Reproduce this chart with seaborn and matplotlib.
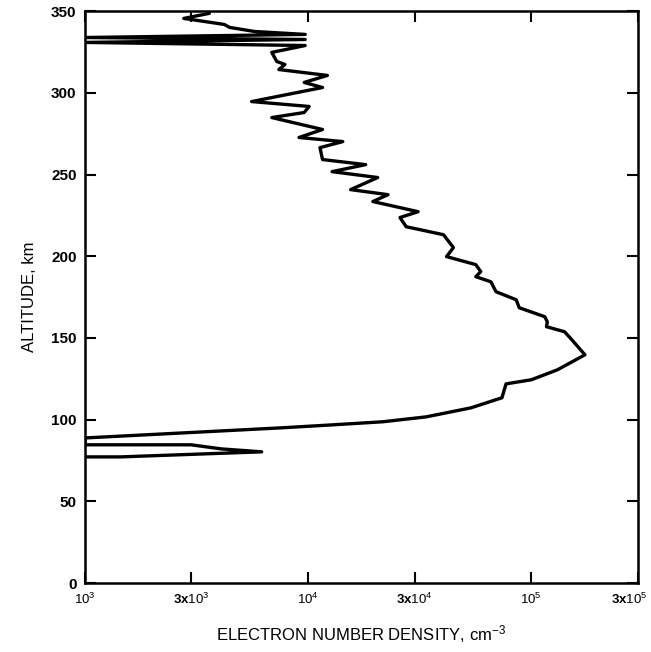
import numpy as np
import pandas as pd
import matplotlib
matplotlib.use("Agg")
import matplotlib.pyplot as plt
import matplotlib.transforms as mtransforms
import seaborn as sns
from matplotlib.ticker import FixedLocator, NullLocator

# electron density profile (path order, top to bottom)
density = [3.61e3, 2.77e3, 4.21e3, 4.44e3, 5.75e3, 9.7e3, 1.0e3, 9.7e3, 1.0e3, 9.7e3,
           6.87e3, 7.24e3, 7.87e3, 7.39e3, 1.22e4, 9.6e3, 1.16e4, 5.58e3, 1.01e4, 9.6e3,
           6.87e3, 1.16e4, 9.1e3, 1.43e4, 1.13e4, 1.16e4, 1.81e4, 1.28e4, 2.05e4, 1.55e4,
           2.28e4, 1.95e4, 3.11e4, 2.58e4, 2.75e4, 4.04e4, 4.48e4, 4.17e4, 5.64e4, 5.94e4,
           5.64e4, 6.59e4, 6.95e4, 8.56e4, 8.83e4, 1.15e5, 1.18e5, 1.17e5, 1.41e5, 1.52e5,
           1.74e5, 1.31e5, 1.0e5, 7.71e4, 7.39e4, 5.36e4, 3.38e4, 2.16e4, 1.28e4, 7.62e3,
           1.0e3, 1.0e3, 2.99e3, 4.08e3, 6.19e3, 1.44e3, 1.0e3]
altitude = [348.7, 345.6, 341.9, 340.1, 337.6, 335.8, 333.9, 332.7, 330.9, 329.0,
            324.8, 319.2, 317.4, 314.3, 310.7, 306.4, 303.3, 294.7, 291.7, 288.0,
            284.9, 277.6, 272.7, 270.2, 266.5, 259.2, 256.1, 251.8, 248.2, 240.8,
            237.7, 233.5, 227.3, 223.7, 218.1, 213.2, 205.3, 199.8, 194.9, 190.6,
            187.5, 184.4, 178.3, 173.4, 168.5, 163.0, 159.9, 156.9, 153.8, 148.9,
            139.7, 130.5, 124.4, 121.9, 113.4, 107.2, 101.7, 98.7, 96.8, 95.0,
            88.8, 84.6, 84.6, 82.1, 80.3, 77.2, 77.2]

x_ticks = [1e3, 3e3, 1e4, 3e4, 1e5, 3e5]
x_tick_labels = [r"$10^3$", r"3x$10^3$", r"$10^4$", r"3x$10^4$", r"$10^5$", r"3x$10^5$"]
y_ticks = [0, 50, 100, 150, 200, 250, 300, 350]

df = pd.DataFrame({"density": density, "altitude": altitude})

sns.set_style("ticks")
plt.rcParams["font.family"] = ["Liberation Sans", "DejaVu Sans"]
plt.rcParams["mathtext.fontset"] = "custom"
plt.rcParams["mathtext.rm"] = "Liberation Sans"
plt.rcParams["mathtext.it"] = "Liberation Sans"
plt.rcParams["text.color"] = "black"
plt.rcParams["axes.labelcolor"] = "black"
plt.rcParams["xtick.color"] = "black"
plt.rcParams["ytick.color"] = "black"
plt.rcParams["axes.edgecolor"] = "black"

fig = plt.figure(figsize=(6.51, 6.52), dpi=100)
ax = fig.add_axes([0.1306, 0.1058, 0.849, 0.877])

sns.lineplot(data=df, x="density", y="altitude", sort=False, estimator=None,
             color="black", linewidth=2.4, ax=ax)
for ln in ax.lines:
    ln.set_solid_joinstyle("round")
    ln.set_solid_capstyle("round")

ax.set_xscale("log")
ax.set_xlim(1e3, 3e5)
ax.set_ylim(0, 350)
ax.xaxis.set_major_locator(FixedLocator(x_ticks))
ax.xaxis.set_minor_locator(NullLocator())
ax.set_xticklabels(x_tick_labels, fontsize=9.5, fontweight="bold")
ax.set_yticks(y_ticks)
ax.set_yticklabels([str(v) for v in y_ticks], fontsize=11, fontweight="bold")

ax.tick_params(direction="in", length=8, width=1.5, top=True, right=True, pad=6)
for s in ax.spines.values():
    s.set_linewidth(1.8)
    s.set_visible(True)

# last tick label sits at the figure edge; nudge it inward a little
last = ax.get_xticklabels()[-1]
last.set_transform(last.get_transform() +
                   mtransforms.ScaledTranslation(-6 / 72, 0, fig.dpi_scale_trans))

ax.set_xlabel("ELECTRON NUMBER DENSITY, cm$^{-3}$", fontsize=12, labelpad=12)
ax.set_ylabel("ALTITUDE, km", fontsize=12, labelpad=10)

fig.savefig("out.png", dpi=100)
